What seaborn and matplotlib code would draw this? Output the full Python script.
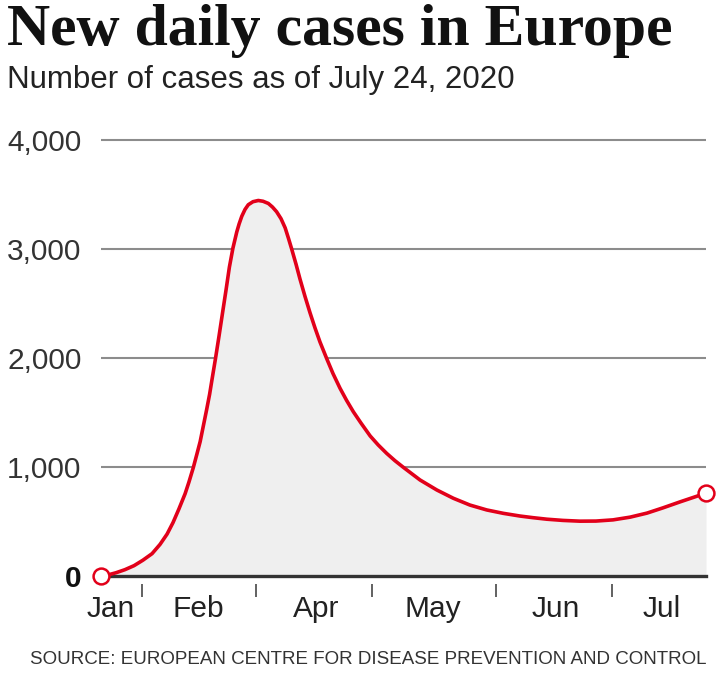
import matplotlib
matplotlib.use('Agg')
import matplotlib.pyplot as plt
import seaborn as sns
import pandas as pd

sns.set_style('white')
plt.rcParams['font.family'] = ['Liberation Sans', 'DejaVu Sans']

# days since Jan 1 and new daily cases
days = [0, 2.4, 5.1, 8.1, 11.2, 14.2, 17.3, 20.0, 22.4, 24.4, 26.4, 28.5,
        29.8, 31.3, 32.5, 33.6, 34.7, 35.8, 36.8, 37.6, 38.8, 40.0, 41.2,
        42.4, 43.5, 44.7, 46.0, 46.8, 47.7, 48.8, 49.9, 51.5, 53.3,
        54.9, 56.7, 58.1, 59.5, 61.0, 62.4, 63.5, 64.6, 66.1, 67.4, 69.1,
        70.8, 72.5, 74.2, 76.5, 78.6, 81.0, 83.2, 85.5, 88.1, 91.2, 93.9,
        96.8, 99.6, 102.4, 108.1, 113.8, 119.4, 125.0, 130.7, 136.3, 142.0,
        146.4, 151.1, 156.5, 162.3, 167.7, 173.5, 179.3, 185.0, 190.4, 196.2,
        200.6, 205.0]
cases = [0, 10, 30, 58, 95, 145, 205, 290, 385, 490, 615, 755,
         862, 997, 1119, 1233, 1380, 1527, 1667, 1800, 1996, 2203, 2417,
         2630, 2833, 3008, 3156, 3230, 3300, 3363, 3406, 3434, 3445,
         3438, 3418, 3385, 3342, 3278, 3194, 3100, 3001, 2859, 2727, 2567,
         2417, 2277, 2147, 1993, 1858, 1722, 1612, 1507, 1403, 1285, 1203,
         1125, 1058, 998, 881, 789, 713, 651, 606, 575, 550,
         535, 521, 510, 503, 504, 515, 540, 577, 625, 680,
         720, 760]

month_labels = ['Jan', 'Feb', 'Apr', 'May', 'Jun', 'Jul']
month_pos = [3.4, 32.9, 72.8, 112.5, 154.2, 190.1]
tick_pos = [13.9, 52.5, 91.8, 133.9, 173.1]
y_ticks = [0, 1000, 2000, 3000, 4000]
y_labels = ['0', '1,000', '2,000', '3,000', '4,000']

df = pd.DataFrame({'day': days, 'cases': cases})

red = '#e2001a'
W, H = 720, 674
fig = plt.figure(figsize=(W / 100, H / 100), dpi=100)
ax_h = 436 * 4050 / 4000
ax = fig.add_axes([101 / W, 1 - 576 / H, 605 / W, ax_h / H])

ax.fill_between(df['day'], df['cases'], color='#efefef', lw=0, zorder=1)
sns.lineplot(data=df, x='day', y='cases', color=red, lw=2.6, ax=ax,
             clip_on=False, zorder=3)
ends = df.iloc[[0, -1]]
ax.scatter(ends['day'], ends['cases'], s=130, facecolor='white', edgecolor=red,
           linewidth=1.8, zorder=4, clip_on=False)

ax.set_xlim(0, 205)
ax.set_ylim(0, 4050)

ax.set_yticks(y_ticks)
ax.set_yticklabels(y_labels)
ax.yaxis.grid(True, color='#8c8c8c', lw=1.5, zorder=0)
ax.set_axisbelow(True)
for lab in ax.get_yticklabels():
    lab.set_fontsize(21.5)
    lab.set_color('#333333')
ax.get_yticklabels()[0].set_fontweight('bold')
ax.get_yticklabels()[0].set_color('#111111')
ax.tick_params(axis='y', length=0, pad=14)

ax.set_xticks(month_pos)
ax.set_xticklabels(month_labels, fontsize=21.5, color='#222222')
ax.tick_params(axis='x', length=0, pad=14)

# small separator ticks under the baseline
ax.vlines(tick_pos, -21 / ax_h, -8 / ax_h, transform=ax.get_xaxis_transform(),
          color='#555555', lw=1.3, clip_on=False)

for side in ['top', 'right', 'left']:
    ax.spines[side].set_visible(False)
ax.spines['bottom'].set_color('#333333')
ax.spines['bottom'].set_linewidth(2.4)
ax.spines['bottom'].set_zorder(2)
ax.set_xlabel('')
ax.set_ylabel('')

fig.text(7 / W, 1 - 45 / H, 'New daily cases in Europe', family='Liberation Serif',
         fontweight='bold', fontsize=43, color='#111111', va='baseline')
fig.text(7 / W, 1 - 88 / H, 'Number of cases as of July 24, 2020', fontsize=22.5,
         color='#222222', va='baseline')
fig.text(706 / W, 1 - 664 / H,
         'SOURCE: EUROPEAN CENTRE FOR DISEASE PREVENTION AND CONTROL',
         fontsize=13.5, color='#333333', ha='right', va='baseline')

fig.savefig('out.png', dpi=100)
